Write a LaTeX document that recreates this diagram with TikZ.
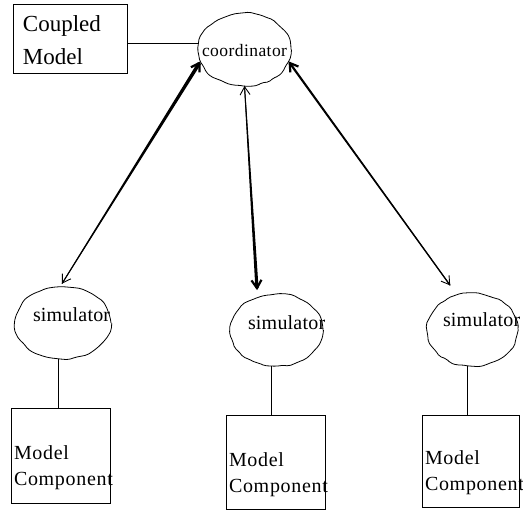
\documentclass[tikz,border=0pt]{standalone}
\usepackage{fontspec}
\setmainfont{Liberation Serif}
\usetikzlibrary{shapes.geometric,arrows.meta,calc,decorations.pathmorphing}

\begin{document}
\begin{tikzpicture}[x=1pt,y=-1pt,
  wobbly/.style={ellipse, draw, line width=0.8pt, inner sep=0pt, outer sep=0pt,
    decorate, decoration={random steps,segment length=6pt,amplitude=1pt},
    rounded corners=2pt},
  box/.style={draw, line width=0.9pt, inner sep=0pt, outer sep=0pt},
  link/.style={line width=0.9pt},
  lbl/.style={inner sep=0pt, outer sep=0pt, anchor=base west},
  txtbig/.style={lbl, font=\fontsize{23}{28}\selectfont},
  txtcoord/.style={lbl, font=\fontsize{17.5}{20}\selectfont\addfontfeatures{LetterSpace=2.5}},
  txtsim/.style={lbl, font=\fontsize{20}{24}\selectfont\addfontfeatures{LetterSpace=1}},
  txtcomp/.style={lbl, font=\fontsize{20}{24}\selectfont\addfontfeatures{LetterSpace=3.5}},
  thinbarb/.tip={Straight Barb[length=8pt,width=10pt,line width=0.9pt]},
  boldbarb/.tip={Straight Barb[length=8pt,width=10pt,line width=2.2pt]},
]
\pgfmathsetseed{7}
\useasboundingbox (0,0) rectangle (523,510);

% boxes
\node[box, minimum width=114pt, minimum height=69pt] (cbox) at (70,38.5) {};
\node[box, minimum width=99pt, minimum height=95pt] (lbox) at (60.5,455.5) {};
\node[box, minimum width=99pt, minimum height=94pt] (mbox) at (275.5,462) {};
\node[box, minimum width=97pt, minimum height=92pt] (rbox) at (470.5,461) {};

% ellipses
\node[wobbly, minimum width=93pt, minimum height=73pt] (coord) at (244.5,49.5) {};
\node[wobbly, minimum width=96pt, minimum height=72pt] (lsim) at (63,323) {};
\node[wobbly, minimum width=93pt, minimum height=72pt] (msim) at (276.5,330) {};
\node[wobbly, minimum width=91pt, minimum height=73pt] (rsim) at (472.5,329.5) {};

% labels
\node[txtbig] (t1) at (23,32) {Coupled};
\node[txtbig] (t2) at (23,65) {Model};
\node[txtcoord] (t3) at (202,57) {coordinator};
\node[txtsim] (t4) at (33,322) {simulator};
\node[txtsim] (t5) at (248,330) {simulator};
\node[txtsim] (t6) at (443,327) {simulator};
\node[txtcomp] (t7) at (14,460) {Model};
\node[txtcomp] (t8) at (14,486) {Component};
\node[txtcomp] (t9) at (229,467) {Model};
\node[txtcomp] (t10) at (229,493) {Component};
\node[txtcomp] (t11) at (425,465) {Model};
\node[txtcomp] (t12) at (425,491) {Component};

% plain links
\draw[link] (cbox.east |- coord.173) -- (coord.173);
\draw[link] ([xshift=-2.5pt]lbox.north) -- ([xshift=-2.5pt]lbox.north |- lsim.south);
\draw[link] ([xshift=-4.5pt]mbox.north) -- ([xshift=-4.5pt]mbox.north |- msim.south);
\draw[link] ([xshift=-3.5pt]rbox.north) -- ([xshift=-3.5pt]rbox.north |- rsim.south);

% double-headed arrows with tapered shafts
\coordinate (a1) at (coord.195);
\coordinate (b1) at ($(lsim.95)!4pt!(a1)$);
\draw[link, boldbarb-thinbarb] (a1) -- (b1);
\coordinate (s1) at ($(a1)!2pt!(b1)$);
\fill ($(s1)!1.8pt!90:(b1)$) -- ($(b1)!0.45pt!-90:(s1)$) -- ($(b1)!0.45pt!90:(s1)$) -- ($(s1)!1.8pt!-90:(b1)$) -- cycle;

\coordinate (a2) at (coord.270);
\coordinate (b2) at ($(msim.120)!7pt!(a2)$);
\draw[link, thinbarb-boldbarb] (a2) -- (b2);
\coordinate (s2) at ($(b2)!2pt!(a2)$);
\fill ($(a2)!0.45pt!90:(s2)$) -- ($(s2)!1.6pt!-90:(a2)$) -- ($(s2)!1.6pt!90:(a2)$) -- ($(a2)!0.45pt!-90:(s2)$) -- cycle;

\coordinate (a3) at (coord.345);
\coordinate (b3) at ($(rsim.114)!12pt!(a3)$);
\draw[link, boldbarb-thinbarb] (a3) -- (b3);
\coordinate (s3) at ($(a3)!2pt!(b3)$);
\fill ($(s3)!1.1pt!90:(b3)$) -- ($(b3)!0.6pt!-90:(s3)$) -- ($(b3)!0.6pt!90:(s3)$) -- ($(s3)!1.1pt!-90:(b3)$) -- cycle;
\end{tikzpicture}
\end{document}
